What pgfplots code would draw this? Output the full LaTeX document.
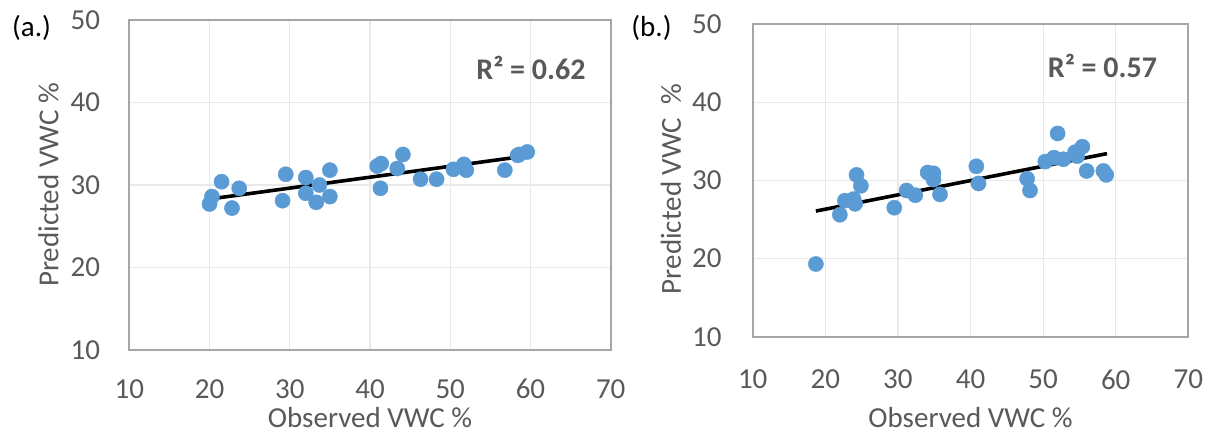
\documentclass[border=0pt]{standalone}
\usepackage{fontspec}
\setmainfont{Carlito}
\usepackage{pgfplots}
\pgfplotsset{compat=1.18}
\definecolor{dotblue}{HTML}{5B9BD5}
\definecolor{txtgray}{HTML}{595959}
\definecolor{boxgray}{HTML}{A6A6A6}
\definecolor{gridgray}{HTML}{E9E9E9}
\pgfplotsset{
  vwc/.style={
    scale only axis, anchor=south west,
    xmin=10,xmax=70,ymin=10,ymax=50,
    xtick={10,20,...,70},ytick={10,20,...,50},
    major tick length=0pt,
    grid=major,major grid style={gridgray,line width=1.2pt},
    axis line style={boxgray,line width=1.8pt},
    tick label style={font=\fontsize{29}{32}\selectfont,text=txtgray,inner sep=0pt},
    /pgf/number format/assume math mode=true,
  },
  dots/.style={only marks,mark=*,mark size=7.6pt,color=dotblue,fill=dotblue},
  trend/.style={black,line width=3.6pt,no marks},
}
\begin{document}
\begin{tikzpicture}
\useasboundingbox (0,0) rectangle (1211pt,-435pt);
% panel (a)
\begin{axis}[vwc,at={(129.3pt,-350pt)},width=481.4pt,height=330pt,
  xticklabel style={anchor=north,yshift=-29pt},
  yticklabel style={anchor=east,xshift=-29pt}]
\addplot[dots] coordinates {
 (20.0,27.7) (20.3,28.6) (21.5,30.4) (22.8,27.2) (23.7,29.6)
 (29.1,28.1) (29.5,31.3) (32.0,30.9) (32.0,29.0) (33.3,27.9)
 (33.7,30.0) (35.0,31.8) (35.0,28.6) (40.9,32.3) (41.4,32.6)
 (41.3,29.6) (43.4,32.0) (44.1,33.7) (46.3,30.7) (48.3,30.7)
 (50.4,31.9) (51.7,32.5) (52.0,31.8) (56.8,31.8) (58.4,33.6)
 (58.6,33.7) (59.6,34.0)
};
\addplot[trend] coordinates {(20.0,28.3) (59.7,33.55)};
\end{axis}
% panel (b)
\begin{axis}[vwc,at={(752.7pt,-336.7pt)},width=435.6pt,height=312.7pt,
  xticklabel style={anchor=north,yshift=-33pt},
  yticklabel style={anchor=east,xshift=-31pt}]
\addplot[dots] coordinates {
 (18.7,19.3) (22.0,25.6) (22.7,27.4) (23.9,27.6) (24.1,27.0)
 (24.3,30.7) (24.9,29.3) (29.5,26.5) (31.2,28.7) (32.4,28.1)
 (34.1,31.0) (34.9,30.9) (34.9,30.1) (35.8,28.2) (40.8,31.8)
 (41.1,29.6) (47.8,30.2) (48.2,28.7) (50.3,32.4) (51.5,32.9)
 (52.0,36.0) (52.8,32.7) (54.4,33.6) (54.7,33.1) (55.4,34.3)
 (56.0,31.2) (58.3,31.2) (58.7,30.7)
};
\addplot[trend] coordinates {(18.7,26.07) (58.8,33.42)};
\end{axis}
\begin{scope}[every node/.style={font=\fontsize{29}{32}\selectfont,inner sep=0pt}]
\node[txtgray,anchor=base] at (370pt,-428pt) {Observed VWC \%};
\node[txtgray,anchor=base] at (970.5pt,-428pt) {Observed VWC \%};
\node[txtgray,rotate=90] at (48.5pt,-185pt) {Predicted VWC \%};
\node[txtgray,rotate=90] at (671pt,-189pt) {Predicted VWC~~\%};
\node at (31.5pt,-28pt) {(a.)};
\node at (651.5pt,-28pt) {(b.)};
\node[txtgray,font=\fontsize{30}{32}\selectfont\bfseries] at (531pt,-67.5pt) {R² = 0.62};
\node[txtgray,font=\fontsize{30}{32}\selectfont\bfseries] at (1102.5pt,-66pt) {R² = 0.57};
\end{scope}
\end{tikzpicture}
\end{document}
